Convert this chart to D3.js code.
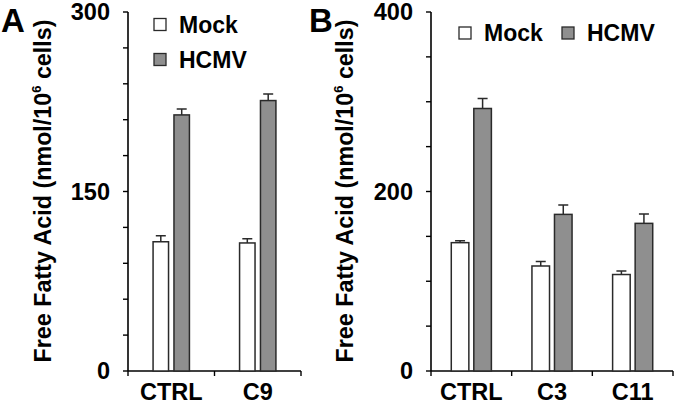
<!DOCTYPE html>
<html><head><meta charset="utf-8">
<script src="https://cdn.jsdelivr.net/npm/d3@7"></script>
<style>
html,body{margin:0;padding:0;background:#fff;}
svg{display:block;}
text{font-family:"Liberation Sans",Arial,sans-serif;font-weight:bold;fill:#000;}
</style></head>
<body><svg id="chart" width="677" height="404"></svg>
<script>
// Panel A data
const catsA = ["CTRL", "C9"];
const mockA = [108, 107];
const mockErrA = [5, 3.5];
const hcmvA = [214, 226];
const hcmvErrA = [5, 5.5];
const ticksA = [0, 150, 300];

// Panel B data
const catsB = ["CTRL", "C3", "C11"];
const mockB = [143, 117, 107.5];
const mockErrB = [2, 5, 4];
const hcmvB = [292.5, 174.5, 164.5];
const hcmvErrB = [11, 10.5, 10.5];
const ticksB = [0, 200, 400];

const seriesNames = ["Mock", "HCMV"];
const yTitle = "Free Fatty Acid (nmol/10";

const svg = d3.select("#chart");
const fills = {Mock: "#ffffff", HCMV: "#8f8f8f"};
const stroke = "#2a2a2a";

function panel(cfg) {
  const g = svg.append("g");
  const x = d3.scaleBand().domain(cfg.cats).range([cfg.x0, cfg.x1]).padding(0);
  const y = d3.scaleLinear().domain([0, cfg.max]).range([371, 12]);
  const sub = d3.scaleBand().domain(seriesNames)
    .range([0, x.bandwidth()]).paddingInner(cfg.pin).paddingOuter(cfg.pout);

  // y axis line and minor ticks
  const minor = d3.range(0, cfg.max + 0.001, cfg.minorStep);
  g.append("line").attr("x1", cfg.x0).attr("x2", cfg.x0)
    .attr("y1", y(cfg.max)).attr("y2", y(0)).attr("stroke", "#000").attr("stroke-width", 1.6);
  g.selectAll(".ytick").data(minor).join("line")
    .attr("x1", cfg.x0 - 5).attr("x2", cfg.x0)
    .attr("y1", d => y(d)).attr("y2", d => y(d)).attr("stroke", "#000").attr("stroke-width", 1.4);
  g.selectAll(".ylab").data(cfg.ticks).join("text")
    .attr("x", cfg.x0 - 18).attr("y", d => y(d)).attr("dy", "0.36em")
    .attr("text-anchor", "end").attr("font-size", 23.5).text(d => d);

  // x axis
  g.append("line").attr("x1", cfg.x0).attr("x2", cfg.x1)
    .attr("y1", y(0)).attr("y2", y(0)).attr("stroke", "#000").attr("stroke-width", 1.6);
  const bounds = cfg.cats.map(c => x(c)).concat([cfg.x1]);
  g.selectAll(".xtick").data(bounds).join("line")
    .attr("x1", d => d).attr("x2", d => d)
    .attr("y1", y(0)).attr("y2", y(0) + 5).attr("stroke", "#000").attr("stroke-width", 1.4);
  g.selectAll(".xlab").data(cfg.cats).join("text")
    .attr("x", d => x(d) + x.bandwidth() / 2).attr("y", 400)
    .attr("text-anchor", "middle").attr("font-size", 23.5).text(d => d);

  // bars
  const rows = [];
  cfg.cats.forEach((c, i) => {
    rows.push({c, s: "Mock", v: cfg.mock[i], e: cfg.mockErr[i]});
    rows.push({c, s: "HCMV", v: cfg.hcmv[i], e: cfg.hcmvErr[i]});
  });
  const bw = sub.bandwidth();
  g.selectAll(".err").data(rows).join("path")
    .attr("d", d => {
      const cx = x(d.c) + sub(d.s) + bw / 2;
      return `M${cx},${y(d.v)}V${y(d.v + d.e)}M${cx - 5},${y(d.v + d.e)}H${cx + 5}`;
    })
    .attr("stroke", stroke).attr("stroke-width", 1.5).attr("fill", "none");
  g.selectAll(".bar").data(rows).join("rect")
    .attr("x", d => x(d.c) + sub(d.s)).attr("width", bw)
    .attr("y", d => y(d.v)).attr("height", d => y(0) - y(d.v))
    .attr("fill", d => fills[d.s]).attr("stroke", stroke).attr("stroke-width", 1.5);

  // y title
  const tt = g.append("text")
    .attr("transform", `translate(${cfg.titleX},191) rotate(-90)`)
    .attr("text-anchor", "middle").attr("font-size", 23.3);
  tt.append("tspan").text(yTitle);
  tt.append("tspan").attr("font-size", 13).attr("dy", -10).text("6");
  tt.append("tspan").attr("dy", 10).text(" cells)");

  // panel letter
  g.append("text").attr("x", cfg.letterX).attr("y", 32).attr("font-size", 33).text(cfg.letter);

  // legend
  cfg.legend.forEach((L, i) => {
    g.append("rect").attr("x", L.x).attr("y", L.y - 6).attr("width", 12).attr("height", 12)
      .attr("fill", fills[seriesNames[i]]).attr("stroke", stroke).attr("stroke-width", 1.3);
    g.append("text").attr("x", L.x + 25).attr("y", L.y).attr("dy", "0.36em")
      .attr("font-size", 23).text(seriesNames[i]);
  });
}

panel({cats: catsA, mock: mockA, mockErr: mockErrA, hcmv: hcmvA, hcmvErr: hcmvErrA,
  ticks: ticksA, max: 300, minorStep: 30, x0: 128, x1: 301, pin: 0.26, pout: 1.2,
  titleX: 51, letter: "A", letterX: 1,
  legend: [{x: 154, y: 24.5}, {x: 154, y: 59.5}]});

panel({cats: catsB, mock: mockB, mockErr: mockErrB, hcmv: hcmvB, hcmvErr: hcmvErrB,
  ticks: ticksB, max: 400, minorStep: 50, x0: 431, x1: 673, pin: 0.22, pout: 0.9,
  titleX: 353, letter: "B", letterX: 309,
  legend: [{x: 459, y: 33}, {x: 562, y: 33}]});
</script></body></html>
